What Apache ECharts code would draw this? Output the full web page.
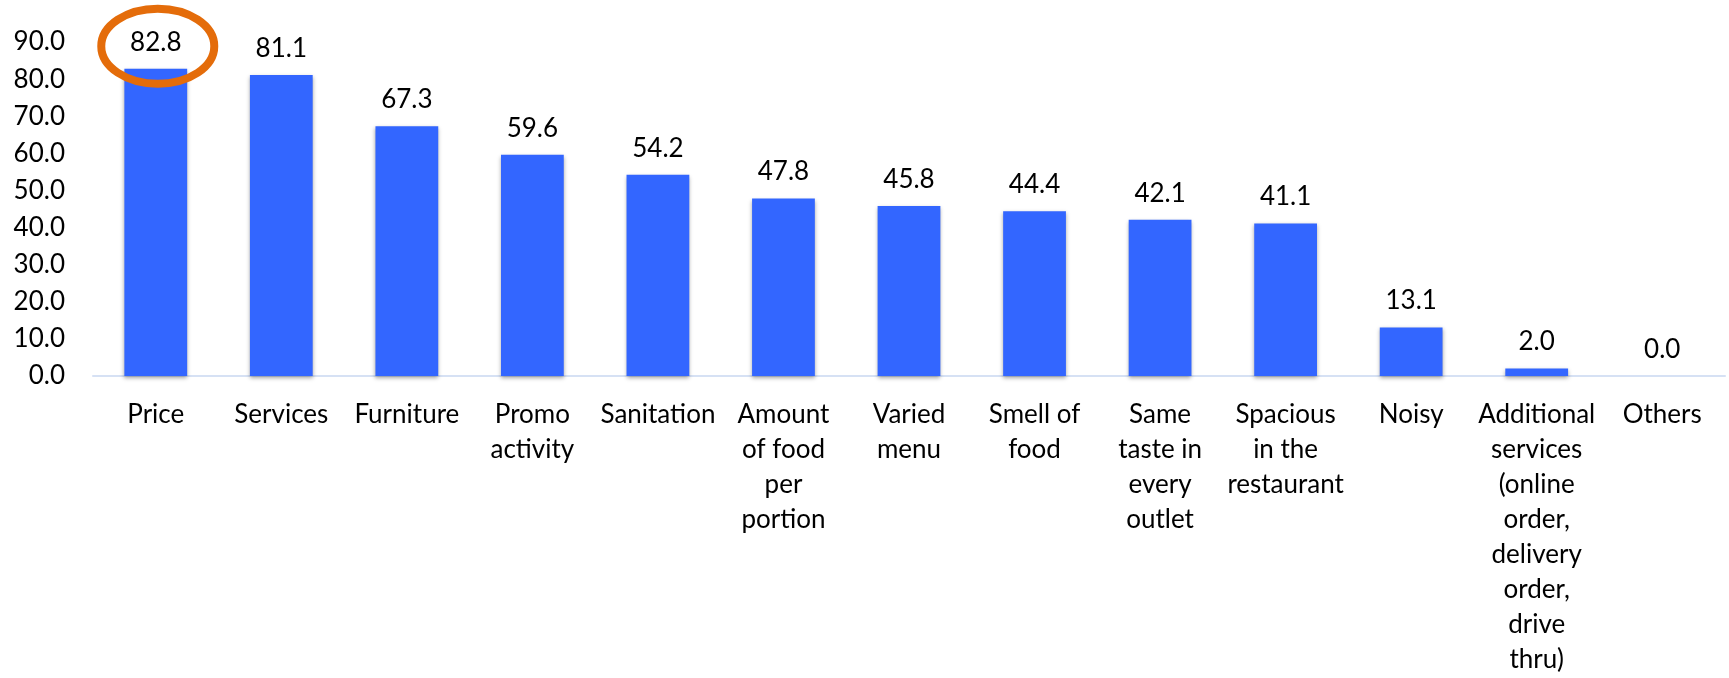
<!DOCTYPE html>
<html>
<head>
<meta charset="utf-8">
<script src="https://cdn.jsdelivr.net/npm/echarts@6/dist/echarts.min.js"></script>
<style>
html,body{margin:0;padding:0;background:#fff;}
#chart{width:1729px;height:678px;}
</style>
</head>
<body>
<div id="chart"></div>
<script>
const categories = [
  "Price", "Services", "Furniture", "Promo\nactivity", "Sanitation",
  "Amount\nof food\nper\nportion", "Varied\nmenu", "Smell of\nfood",
  "Same\ntaste in\nevery\noutlet", "Spacious\nin the\nrestaurant", "Noisy",
  "Additional\nservices\n(online\norder,\ndelivery\norder,\ndrive\nthru)", "Others"
];
const values = [82.8, 81.1, 67.3, 59.6, 54.2, 47.8, 45.8, 44.4, 42.1, 41.1, 13.1, 2.0, 0.0];
const yTicks = { min: 0, max: 90, interval: 10 };
const highlightIndex = 0;

const FONT = 'Lato';
const chart = echarts.init(document.getElementById('chart'), null, { renderer: 'canvas' });

chart.setOption({
  animation: false,
  backgroundColor: '#ffffff',
  grid: { left: 93, right: 4, top: 42, bottom: 302, containLabel: false },
  xAxis: {
    type: 'category',
    data: categories,
    axisLine: { show: true, lineStyle: { color: '#D6E1F4', width: 2 } },
    axisTick: { show: false },
    axisLabel: {
      interval: 0,
      color: '#000',
      fontFamily: FONT,
      fontSize: 26,
      lineHeight: 35,
      margin: 21
    }
  },
  yAxis: {
    type: 'value',
    min: yTicks.min,
    max: yTicks.max,
    interval: yTicks.interval,
    splitLine: { show: false },
    axisLine: { show: false },
    axisTick: { show: false },
    axisLabel: {
      color: '#000',
      fontFamily: FONT,
      fontSize: 26,
      margin: 28,
      formatter: v => v.toFixed(1)
    }
  },
  series: [{
    type: 'bar',
    data: values,
    barWidth: '50%',
    itemStyle: {
      color: '#3366FF',
      shadowColor: 'rgba(0,0,0,0.35)',
      shadowBlur: 4,
      shadowOffsetY: 2
    },
    label: {
      show: true,
      position: 'top',
      distance: 9,
      color: '#000',
      fontFamily: FONT,
      fontSize: 26,
      lineHeight: 35,
      formatter: p => p.value.toFixed(1)
    }
  }]
});

const pt = chart.convertToPixel({ seriesIndex: 0 }, [highlightIndex, values[highlightIndex]]);
chart.setOption({
  graphic: [{
    type: 'ellipse',
    shape: { cx: pt[0] + 2, cy: pt[1] - 22.5, rx: 56.5, ry: 37.5 },
    style: { fill: 'none', stroke: '#E46C0A', lineWidth: 8 },
    z: 100
  }]
});
</script>
</body>
</html>
